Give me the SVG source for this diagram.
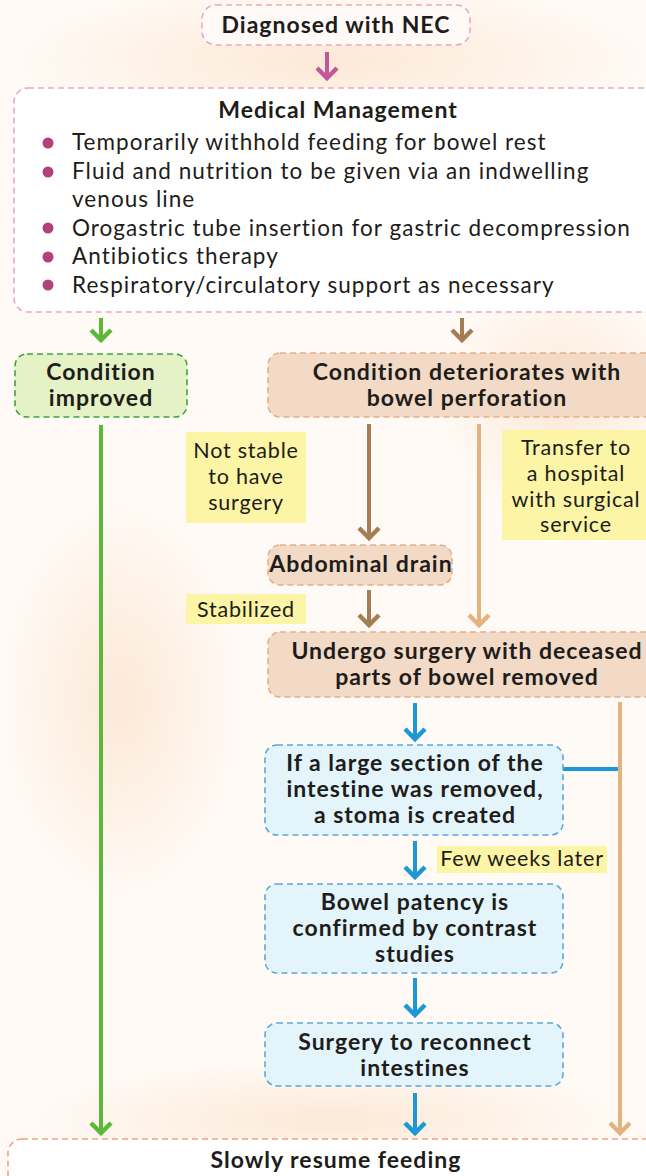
<svg xmlns="http://www.w3.org/2000/svg" width="646" height="1176" viewBox="0 0 646 1176">
<defs>
<style>
.t{font-family:Lato,"Liberation Sans",sans-serif;fill:#201c1a;}
.b{font-weight:bold;font-size:23px;letter-spacing:1px;text-anchor:middle;}
.n{font-size:22.5px;letter-spacing:1.05px;}
.lab{font-size:21.5px;letter-spacing:0.8px;text-anchor:middle;}
.box{stroke-width:1.6;stroke-dasharray:6 4;}
.ln{fill:none;stroke-width:4;stroke-linecap:butt;}
</style>
<radialGradient id="bg1" cx="0.5" cy="0.5" r="0.5"><stop offset="0" stop-color="#fbe3cc" stop-opacity="0.75"/><stop offset="1" stop-color="#fbe3cc" stop-opacity="0"/></radialGradient>
<marker id="aP" markerUnits="userSpaceOnUse" markerWidth="26" markerHeight="18" refX="13" refY="14" viewBox="0 0 26 18"><path d="M3,3 L13,13 L23,3" fill="none" stroke="#c4569a" stroke-width="4.5"/></marker>
<marker id="aG" markerUnits="userSpaceOnUse" markerWidth="26" markerHeight="18" refX="13" refY="14" viewBox="0 0 26 18"><path d="M3,3 L13,13 L23,3" fill="none" stroke="#5cb838" stroke-width="4.5"/></marker>
<marker id="aD" markerUnits="userSpaceOnUse" markerWidth="26" markerHeight="18" refX="13" refY="14" viewBox="0 0 26 18"><path d="M3,3 L13,13 L23,3" fill="none" stroke="#a57d55" stroke-width="4.5"/></marker>
<marker id="aT" markerUnits="userSpaceOnUse" markerWidth="26" markerHeight="18" refX="13" refY="14" viewBox="0 0 26 18"><path d="M3,3 L13,13 L23,3" fill="none" stroke="#e2b27f" stroke-width="4.5"/></marker>
<marker id="aB" markerUnits="userSpaceOnUse" markerWidth="26" markerHeight="18" refX="13" refY="14" viewBox="0 0 26 18"><path d="M3,3 L13,13 L23,3" fill="none" stroke="#1b98d5" stroke-width="4.5"/></marker>
</defs>
<rect x="0" y="0" width="646" height="1176" fill="#fffaf5"/>
<ellipse cx="330" cy="60" rx="320" ry="80" fill="url(#bg1)"/>
<ellipse cx="120" cy="700" rx="120" ry="200" fill="url(#bg1)"/>
<ellipse cx="560" cy="400" rx="120" ry="120" fill="url(#bg1)"/>
<ellipse cx="330" cy="1120" rx="300" ry="60" fill="url(#bg1)"/>

<g id="connectors">
<line class="ln" x1="327" y1="52" x2="327" y2="79" stroke="#c4569a" marker-end="url(#aP)"/>
<line class="ln" x1="101" y1="318" x2="101" y2="341" stroke="#5cb838" marker-end="url(#aG)"/>
<line class="ln" x1="462" y1="318" x2="462" y2="341" stroke="#a57d55" marker-end="url(#aD)"/>
<line class="ln" x1="101" y1="425" x2="101" y2="1134" stroke="#5cb838" marker-end="url(#aG)"/>
<line class="ln" x1="369" y1="424" x2="369" y2="539" stroke="#a57d55" marker-end="url(#aD)"/>
<line class="ln" x1="479" y1="424" x2="479" y2="626" stroke="#e2b27f" marker-end="url(#aT)"/>
<line class="ln" x1="369" y1="590" x2="369" y2="626" stroke="#a57d55" marker-end="url(#aD)"/>
<line class="ln" x1="415" y1="703" x2="415" y2="740" stroke="#1b98d5" marker-end="url(#aB)"/>
<line class="ln" x1="620" y1="702" x2="620" y2="1134" stroke="#e2b27f" marker-end="url(#aT)"/>
<line class="ln" x1="563" y1="769" x2="618" y2="769" stroke="#1b98d5"/>
<line class="ln" x1="415" y1="841" x2="415" y2="878" stroke="#1b98d5" marker-end="url(#aB)"/>
<line class="ln" x1="415" y1="978" x2="415" y2="1016" stroke="#1b98d5" marker-end="url(#aB)"/>
<line class="ln" x1="415" y1="1093" x2="415" y2="1134" stroke="#1b98d5" marker-end="url(#aB)"/>
</g>

<g id="diagnosed">
<rect class="box" x="202" y="5" width="268" height="40" rx="14" fill="#fffaf7" stroke="#e8a9c9"/>
<text class="t b" x="336" y="33">Diagnosed with NEC</text>
</g>

<g id="medical">
<rect class="box" x="14" y="88" width="650" height="224" rx="14" fill="#ffffff" stroke="#e8a9c9"/>
<text class="t b" x="338" y="118">Medical Management</text>
<g fill="#b3417a">
<circle cx="48" cy="143" r="5.5"/>
<circle cx="48" cy="172" r="5.5"/>
<circle cx="48" cy="228" r="5.5"/>
<circle cx="48" cy="257" r="5.5"/>
<circle cx="48" cy="285" r="5.5"/>
</g>
<text class="t n" x="72" y="150">Temporarily withhold feeding for bowel rest</text>
<text class="t n" x="72" y="179">Fluid and nutrition to be given via an indwelling</text>
<text class="t n" x="72" y="207">venous line</text>
<text class="t n" x="72" y="236">Orogastric tube insertion for gastric decompression</text>
<text class="t n" x="72" y="264">Antibiotics therapy</text>
<text class="t n" x="72" y="293">Respiratory/circulatory support as necessary</text>
</g>

<g id="improved">
<rect class="box" x="15" y="354" width="172" height="63" rx="12" fill="#e4f2c6" stroke="#3aa63c"/>
<text class="t b" x="101" y="380">Condition</text>
<text class="t b" x="101" y="406">improved</text>
</g>

<g id="deteriorates">
<rect class="box" x="268" y="353" width="400" height="64" rx="12" fill="#f2dac6" stroke="#e3b08a"/>
<text class="t b" x="467" y="380">Condition deteriorates with</text>
<text class="t b" x="467" y="406">bowel perforation</text>
</g>

<g id="label-notstable">
<rect x="186" y="432" width="120" height="91" fill="#fdf5a6"/>
<text class="t lab" x="246" y="458">Not stable</text>
<text class="t lab" x="246" y="484">to have</text>
<text class="t lab" x="246" y="510">surgery</text>
</g>

<g id="label-transfer">
<rect x="502" y="430" width="150" height="110" fill="#fdf5a6"/>
<text class="t lab" x="576" y="455">Transfer to</text>
<text class="t lab" x="576" y="481">a hospital</text>
<text class="t lab" x="576" y="507">with surgical</text>
<text class="t lab" x="576" y="532">service</text>
</g>

<g id="drain">
<rect class="box" x="268" y="545" width="184" height="40" rx="12" fill="#f2dac6" stroke="#e3b08a"/>
<text class="t b" x="361" y="572">Abdominal drain</text>
</g>

<g id="label-stabilized">
<rect x="186" y="594" width="120" height="30" fill="#fdf5a6"/>
<text class="t lab" x="246" y="617">Stabilized</text>
</g>

<g id="surgery">
<rect class="box" x="268" y="632" width="400" height="65" rx="12" fill="#f2dac6" stroke="#e3b08a"/>
<text class="t b" x="467" y="659">Undergo surgery with deceased</text>
<text class="t b" x="467" y="685">parts of bowel removed</text>
</g>

<g id="stoma">
<rect class="box" x="265" y="745" width="298" height="90" rx="12" fill="#e3f4fb" stroke="#5ba8da"/>
<text class="t b" x="415" y="771">If a large section of the</text>
<text class="t b" x="415" y="797">intestine was removed,</text>
<text class="t b" x="415" y="823">a stoma is created</text>
</g>

<g id="label-fewweeks">
<rect x="437" y="846" width="170" height="27" fill="#fdf5a6"/>
<text class="t lab" x="522" y="866">Few weeks later</text>
</g>

<g id="patency">
<rect class="box" x="265" y="884" width="298" height="89" rx="12" fill="#e3f4fb" stroke="#5ba8da"/>
<text class="t b" x="415" y="910">Bowel patency is</text>
<text class="t b" x="415" y="936">confirmed by contrast</text>
<text class="t b" x="415" y="962">studies</text>
</g>

<g id="reconnect">
<rect class="box" x="265" y="1023" width="298" height="63" rx="12" fill="#e3f4fb" stroke="#5ba8da"/>
<text class="t b" x="415" y="1050">Surgery to reconnect</text>
<text class="t b" x="415" y="1076">intestines</text>
</g>

<g id="resume">
<rect class="box" x="8" y="1139" width="660" height="60" rx="14" fill="#ffffff" stroke="#f2a283"/>
<text class="t b" x="336" y="1168">Slowly resume feeding</text>
</g>
</svg>
